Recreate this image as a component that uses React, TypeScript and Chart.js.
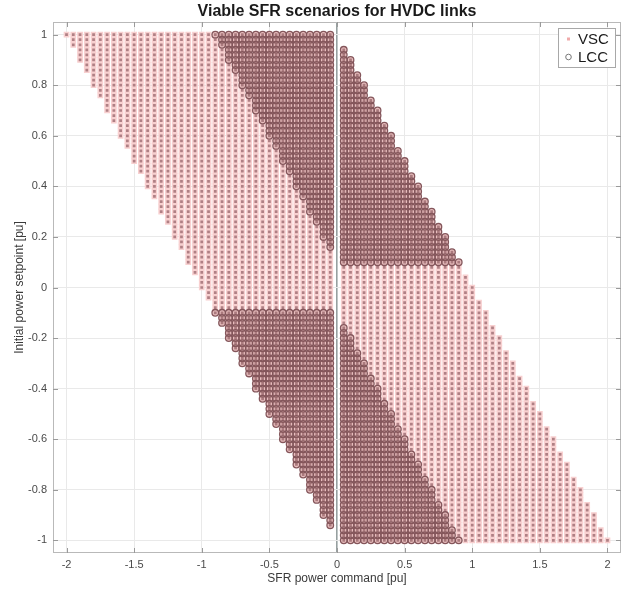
import React, { useEffect, useRef } from "react";
import { Chart, registerables } from "chart.js";

Chart.register(...registerables);

// SFR power command values (x grid, pu) – the 0 column is not part of the scenario set
const xCommands = [
  -2, -1.95, -1.9, -1.85, -1.8, -1.75, -1.7, -1.65, -1.6, -1.55,
  -1.5, -1.45, -1.4, -1.35, -1.3, -1.25, -1.2, -1.15, -1.1, -1.05,
  -1, -0.95, -0.9, -0.85, -0.8, -0.75, -0.7, -0.65, -0.6, -0.55,
  -0.5, -0.45, -0.4, -0.35, -0.3, -0.25, -0.2, -0.15, -0.1, -0.05,
  0.05, 0.1, 0.15, 0.2, 0.25, 0.3, 0.35, 0.4, 0.45, 0.5,
  0.55, 0.6, 0.65, 0.7, 0.75, 0.8, 0.85, 0.9, 0.95, 1,
  1.05, 1.1, 1.15, 1.2, 1.25, 1.3, 1.35, 1.4, 1.45, 1.5,
  1.55, 1.6, 1.65, 1.7, 1.75, 1.8, 1.85, 1.9, 1.95, 2,
];

// Initial power setpoint values (y grid, pu)
const setpoints = [
  1, 0.98, 0.96, 0.94, 0.92, 0.9, 0.88, 0.86, 0.84, 0.82,
  0.8, 0.78, 0.76, 0.74, 0.72, 0.7, 0.68, 0.66, 0.64, 0.62,
  0.6, 0.58, 0.56, 0.54, 0.52, 0.5, 0.48, 0.46, 0.44, 0.42,
  0.4, 0.38, 0.36, 0.34, 0.32, 0.3, 0.28, 0.26, 0.24, 0.22,
  0.2, 0.18, 0.16, 0.14, 0.12, 0.1, 0.08, 0.06, 0.04, 0.02,
  0, -0.02, -0.04, -0.06, -0.08, -0.1, -0.12, -0.14, -0.16, -0.18,
  -0.2, -0.22, -0.24, -0.26, -0.28, -0.3, -0.32, -0.34, -0.36, -0.38,
  -0.4, -0.42, -0.44, -0.46, -0.48, -0.5, -0.52, -0.54, -0.56, -0.58,
  -0.6, -0.62, -0.64, -0.66, -0.68, -0.7, -0.72, -0.74, -0.76, -0.78,
  -0.8, -0.82, -0.84, -0.86, -0.88, -0.9, -0.92, -0.94, -0.96, -0.98,
  -1,
];

// Allowed final power (setpoint + command) ranges
const vscFinalRange = [-1, 1];
const lccForwardRange = [0.1, 1]; // for setpoints >= 0.1
const lccReverseRange = [-1, -0.1]; // for setpoints <= -0.1

const xTicks = [-2, -1.5, -1, -0.5, 0, 0.5, 1, 1.5, 2];
const yTicks = [-1, -0.8, -0.6, -0.4, -0.2, 0, 0.2, 0.4, 0.6, 0.8, 1];

const seriesNames = ["VSC", "LCC"];

const EPS = 1e-9;
const inRange = (v: number, r: number[]) => v >= r[0] - EPS && v <= r[1] + EPS;

function buildPoints() {
  const vsc: { x: number; y: number }[] = [];
  const lcc: { x: number; y: number }[] = [];
  for (const y of setpoints) {
    for (const x of xCommands) {
      const fin = x + y;
      if (inRange(fin, vscFinalRange)) vsc.push({ x, y });
      const fwd = y >= lccForwardRange[0] - EPS && inRange(fin, lccForwardRange);
      const rev = y <= lccReverseRange[1] + EPS && inRange(fin, lccReverseRange);
      if (fwd || rev) lcc.push({ x, y });
    }
  }
  return { vsc, lcc };
}

const FONT = '"Liberation Sans", Arial, Helvetica, sans-serif';

const decorPlugin = {
  id: "decor",
  afterDraw(chart: any) {
    const { ctx, chartArea, scales } = chart;
    const { left, right, top, bottom } = chartArea;
    ctx.save();
    // frame
    ctx.strokeStyle = "#b9b9b9";
    ctx.lineWidth = 1;
    ctx.strokeRect(left + 0.5, top + 0.5, right - left - 1, bottom - top - 1);
    // inward ticks
    ctx.strokeStyle = "#9a9a9a";
    ctx.beginPath();
    for (const v of xTicks) {
      const px = Math.round(scales.x.getPixelForValue(v)) + 0.5;
      ctx.moveTo(px, bottom);
      ctx.lineTo(px, bottom - 5);
      ctx.moveTo(px, top);
      ctx.lineTo(px, top + 5);
    }
    for (const v of yTicks) {
      const py = Math.round(scales.y.getPixelForValue(v)) + 0.5;
      ctx.moveTo(left, py);
      ctx.lineTo(left + 5, py);
      ctx.moveTo(right, py);
      ctx.lineTo(right - 5, py);
    }
    ctx.stroke();

    // title
    ctx.fillStyle = "#1a1a1a";
    ctx.font = `bold 16px ${FONT}`;
    ctx.textAlign = "center";
    ctx.textBaseline = "middle";
    ctx.fillText("Viable SFR scenarios for HVDC links", (left + right) / 2, 12);

    // legend
    const bx = right - 63;
    const by = top + 6;
    const bw = 57;
    const bh = 39;
    ctx.fillStyle = "#ffffff";
    ctx.fillRect(bx, by, bw, bh);
    ctx.strokeStyle = "#a8a8a8";
    ctx.strokeRect(bx + 0.5, by + 0.5, bw, bh);
    const rows = [by + 11, by + 29];
    // VSC marker
    ctx.fillStyle = "rgb(240,170,170)";
    ctx.fillRect(bx + 9, rows[0] - 1.5, 3, 3);
    // LCC marker
    ctx.strokeStyle = "rgb(120,120,120)";
    ctx.lineWidth = 1;
    ctx.beginPath();
    ctx.arc(bx + 10.5, rows[1], 2.8, 0, Math.PI * 2);
    ctx.stroke();
    ctx.fillStyle = "#1a1a1a";
    ctx.font = `15px ${FONT}`;
    ctx.textAlign = "left";
    ctx.fillText(seriesNames[0], bx + 20, rows[0] + 1);
    ctx.fillText(seriesNames[1], bx + 20, rows[1] + 1);
    ctx.restore();
  },
};

export default function App() {
  const ref = useRef<HTMLCanvasElement | null>(null);
  useEffect(() => {
    document.body.style.margin = "0";
    const { vsc, lcc } = buildPoints();
    const chart = new Chart(ref.current as HTMLCanvasElement, {
      type: "scatter",
      data: {
        datasets: [
          {
            label: seriesNames[0],
            data: vsc,
            order: 2,
            pointStyle: "rect",
            pointRadius: 3,
            backgroundColor: "rgb(176,128,133)",
            borderColor: "rgb(248,208,208)",
            borderWidth: 1.5,
          },
          {
            label: seriesNames[1],
            data: lcc,
            order: 1,
            pointStyle: "circle",
            pointRadius: 3.3,
            backgroundColor: "rgba(140,85,90,0.15)",
            borderColor: "rgb(132,86,91)",
            borderWidth: 1.3,
          },
        ],
      },
      options: {
        responsive: false,
        animation: false,
        events: [],
        layout: { padding: { top: 22, right: 14, left: 0, bottom: 0 } },
        plugins: { legend: { display: false }, title: { display: false }, tooltip: { enabled: false } },
        scales: {
          x: {
            type: "linear",
            min: -2.1,
            max: 2.1,
            afterBuildTicks: (s: any) => {
              s.ticks = xTicks.map((v) => ({ value: v }));
            },
            afterFit: (s: any) => {
              s.height = 36;
            },
            grid: {
              drawTicks: false,
              color: (c: any) => (c.tick && c.tick.value === 0 ? "rgb(150,160,160)" : "#e9e9e9"),
              lineWidth: (c: any) => (c.tick && c.tick.value === 0 ? 1.6 : 1),
            },
            border: { display: false },
            ticks: {
              padding: 5,
              color: "#4a4a4a",
              font: { family: FONT, size: 11 },
              callback: (v: any) => String(v),
            },
            title: {
              display: true,
              text: "SFR power command [pu]",
              color: "#3a3a3a",
              font: { family: FONT, size: 12 },
              padding: { top: 0, bottom: 3 },
            },
          },
          y: {
            type: "linear",
            min: -1.05,
            max: 1.05,
            afterBuildTicks: (s: any) => {
              s.ticks = yTicks.map((v) => ({ value: v }));
            },
            afterFit: (s: any) => {
              s.width = 53;
            },
            grid: { drawTicks: false, color: "#e9e9e9" },
            border: { display: false },
            ticks: {
              padding: 6,
              color: "#4a4a4a",
              font: { family: FONT, size: 11 },
              callback: (v: any) => String(v),
            },
            title: {
              display: true,
              text: "Initial power setpoint [pu]",
              color: "#3a3a3a",
              font: { family: FONT, size: 12 },
              padding: { top: 12, bottom: 0 },
            },
          },
        },
      },
      plugins: [decorPlugin],
    });
    return () => chart.destroy();
  }, []);
  return (
    <div style={{ width: 635, height: 589, background: "#fff" }}>
      <canvas ref={ref} width={635} height={589} />
    </div>
  );
}
